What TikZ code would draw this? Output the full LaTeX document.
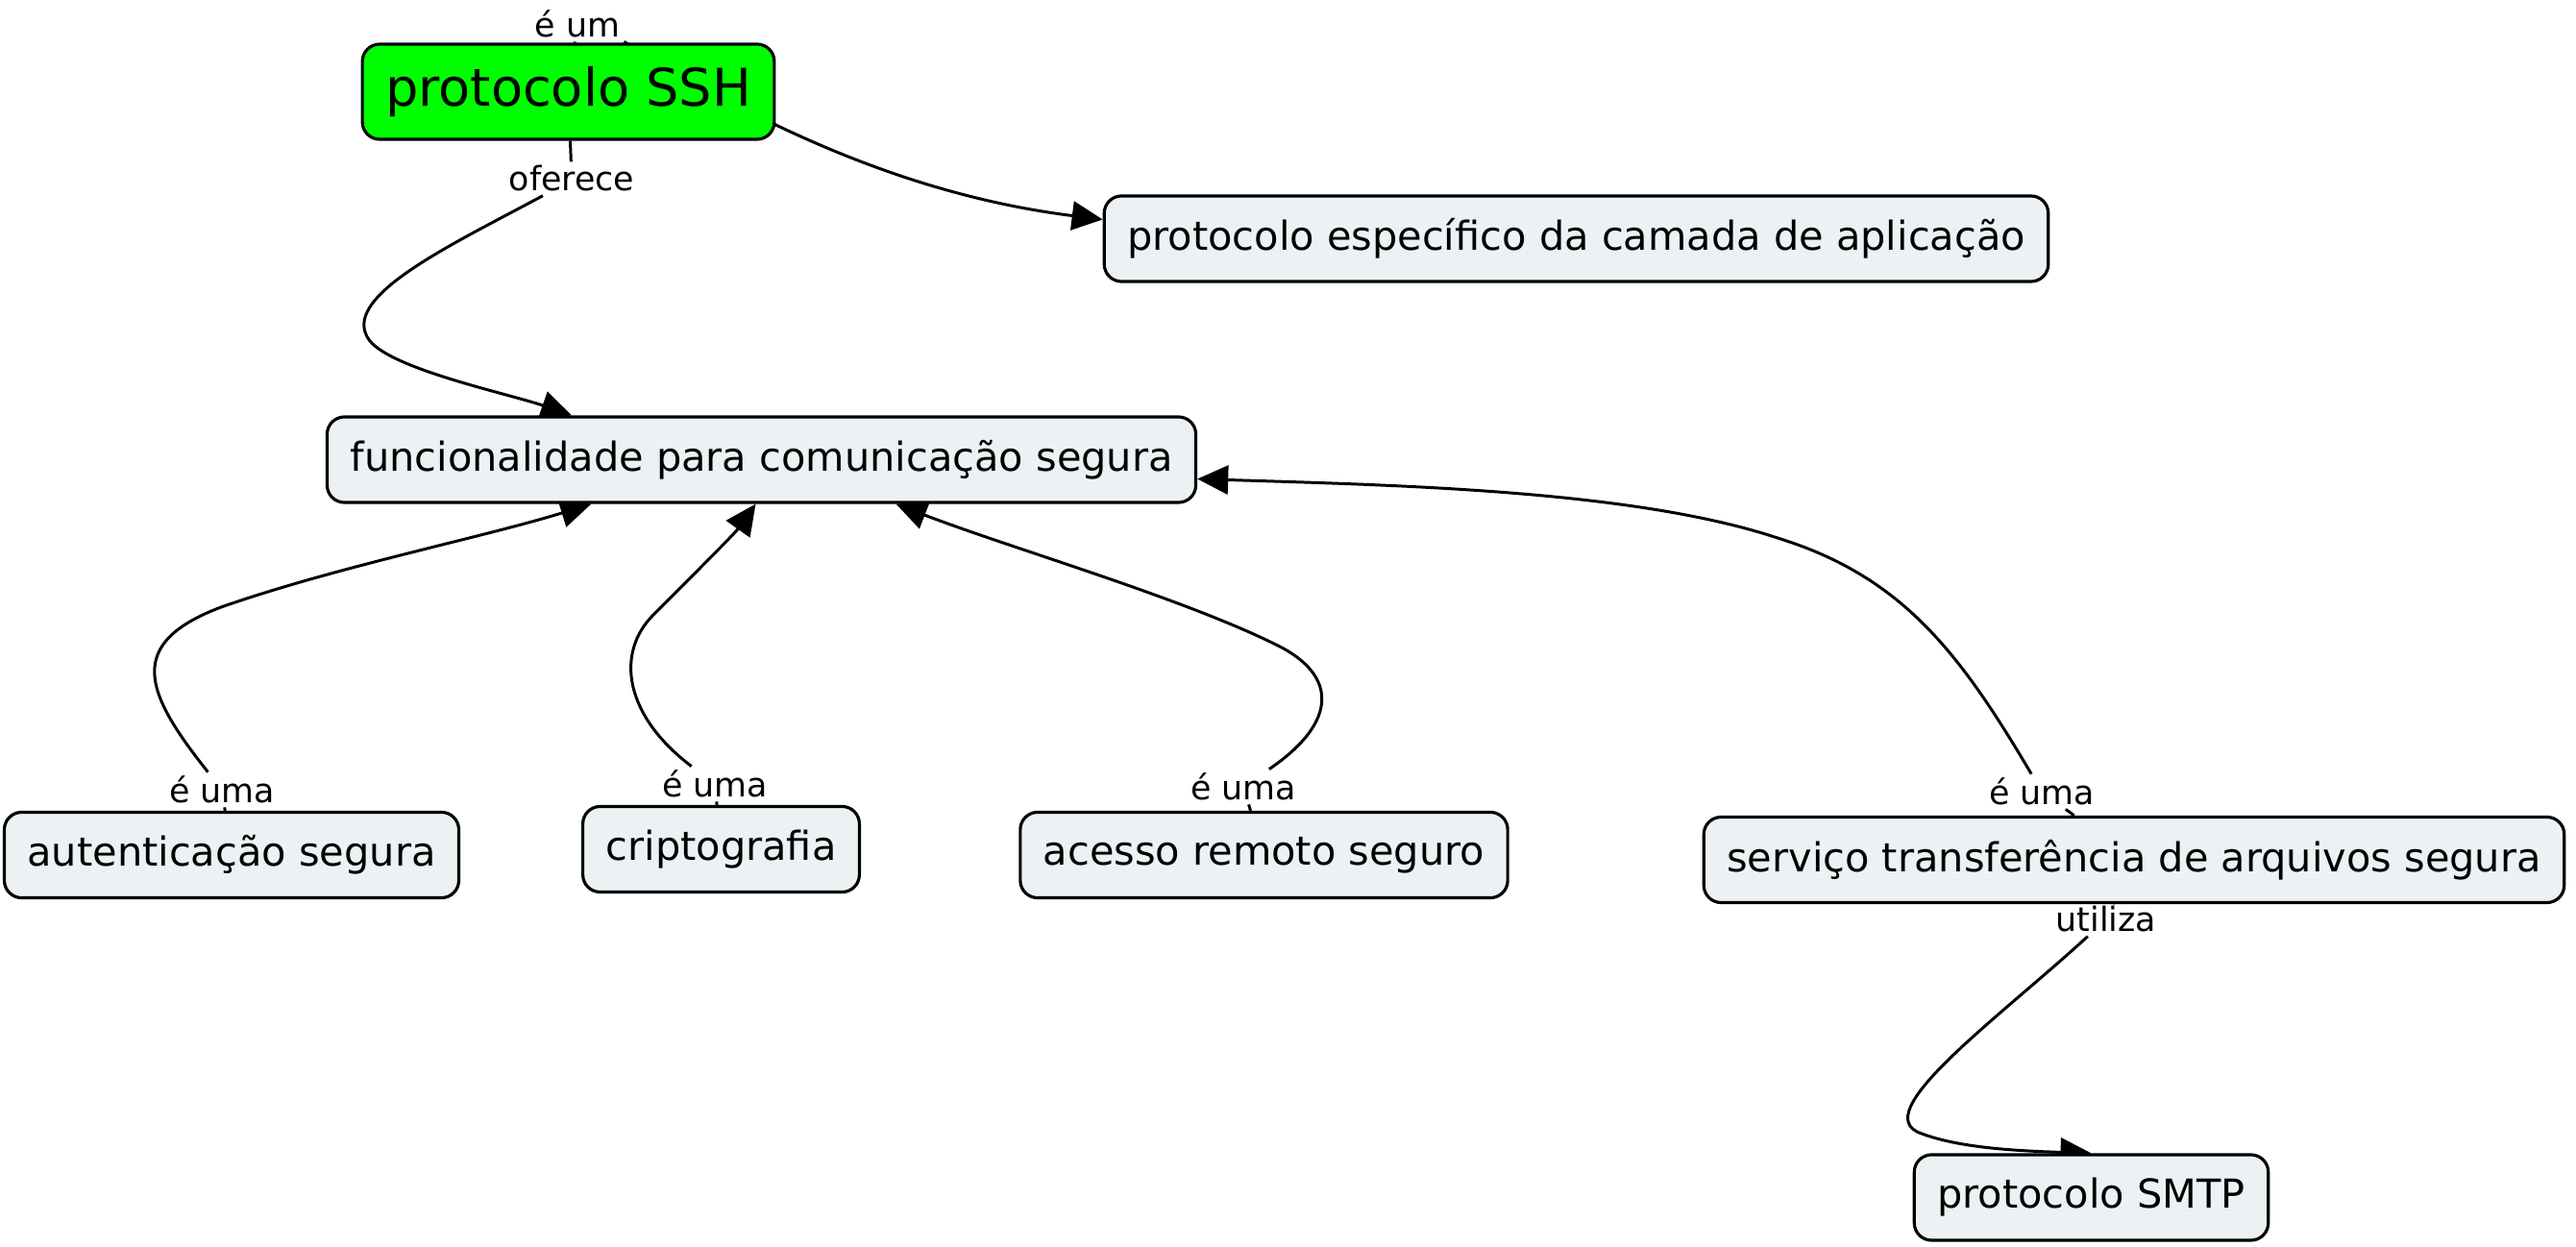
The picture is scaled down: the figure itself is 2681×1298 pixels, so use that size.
\documentclass[tikz,border=0pt]{standalone}
\usepackage{fontspec}
\setmainfont{DejaVu Sans}
\usetikzlibrary{arrows.meta,backgrounds}
\definecolor{cmapfill}{HTML}{ECF2F4}
\definecolor{cmapgreen}{HTML}{00FF00}
\tikzset{
  concept/.style={draw, line width=0.9pt, rounded corners=0.18cm, fill=cmapfill,
    font=\fontsize{11.8}{14}\selectfont, minimum height=0.89cm, inner xsep=0.24cm},
  linkname/.style={inner sep=1pt, font=\fontsize{9.9}{12}\selectfont},
  link/.style={line width=0.85pt},
  linkarrow/.style={link, -{Triangle[length=0.32cm,width=0.3cm]}}
}
\begin{document}
\begin{tikzpicture}[x=0.01cm, y=-0.01cm]
\useasboundingbox (0,0) rectangle (2681,1298);
% concepts
\node[concept, fill=cmapgreen, font=\fontsize{15.4}{18}\selectfont, minimum height=0.99cm] (ssh) at (591.5,95.5) {protocolo SSH};
\node[concept] (espec) at (1640.5,248.5) {protocolo específico da camada de aplicação};
\node[concept] (func) at (792.5,478.5) {funcionalidade para comunicação segura};
\node[concept] (autent) at (241,890) {autenticação segura};
\node[concept] (cripto) at (750.5,884) {criptografia};
\node[concept] (acesso) at (1315.5,890) {acesso remoto seguro};
\node[concept] (servico) at (2221,895) {serviço transferência de arquivos segura};
\node[concept] (smtp) at (2176.5,1246.5) {protocolo SMTP};
% linking phrases
\node[linkname] (leum) at (601,25) {é um};
\node[linkname] (loferece) at (595,186) {oferece};
\node[linkname] (laut) at (231,822) {é uma};
\node[linkname] (lcrip) at (744,816) {é uma};
\node[linkname] (lacesso) at (1294,819) {é uma};
\node[linkname] (lserv) at (2125,824) {é uma};
\node[linkname] (lutiliza) at (2192,957) {utiliza};

\begin{scope}[on background layer]
\draw[link] (ssh) -- (leum);
\draw[linkarrow] (leum.south east) .. controls (760,110) and (920,200) .. ([yshift=0.2cm]espec.west);
\draw[link] (ssh) -- (loferece);
\draw[linkarrow] ([xshift=-0.3cm]loferece.south) .. controls (470,255) and (350,310) .. (385,355)
  .. controls (410,385) and (530,410) .. (func.north -| loferece);
\draw[link] (autent) -- (laut);
\draw[linkarrow] (laut) .. controls (150,720) and (130,670) .. (230,632)
  .. controls (350,590) and (500,560) .. ([xshift=-1.77cm]func.south);
\draw[link] (cripto) -- (lcrip);
\draw[linkarrow] (lcrip) .. controls (650,745) and (640,680) .. (680,640)
  .. controls (715,605) and (765,555) .. ([xshift=-0.06cm]func.south);
\draw[link] (acesso) -- (lacesso);
\draw[linkarrow] (lacesso) .. controls (1395,750) and (1390,702) .. (1330,672)
  .. controls (1230,622) and (1050,570) .. ([xshift=1.4cm]func.south);
\draw[link] (servico) -- (lserv);
\draw[linkarrow] (lserv) .. controls (2040,680) and (1980,600) .. (1850,560)
  .. controls (1700,510) and (1450,505) .. ([yshift=-0.2cm]func.east);
\draw[link] (servico) -- (lutiliza);
\draw[linkarrow] (lutiliza) .. controls (2080,1060) and (1940,1160) .. (2000,1180)
  .. controls (2040,1195) and (2100,1198) .. (smtp.north);
\end{scope}
\end{tikzpicture}
\end{document}
